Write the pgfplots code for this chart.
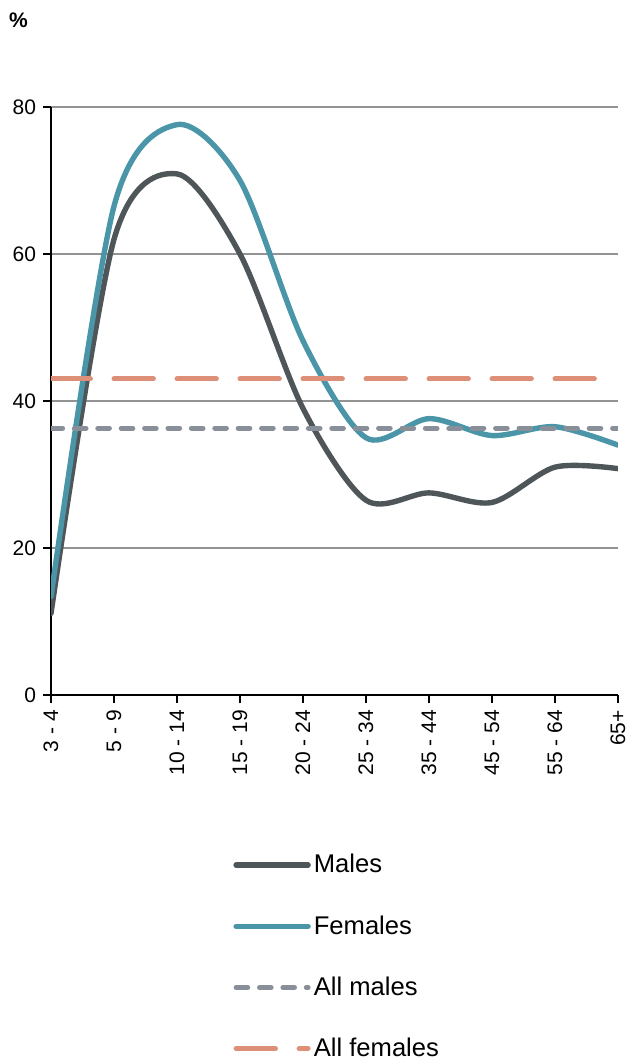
\documentclass[border=0pt]{standalone}
\usepackage{fontspec}
\setmainfont{Liberation Sans}
\usepackage{pgfplots}
\pgfplotsset{compat=1.18}

\definecolor{males}{RGB}{79,86,90}
\definecolor{females}{RGB}{74,150,168}
\definecolor{allmales}{RGB}{137,143,153}
\definecolor{allfemales}{RGB}{222,143,120}

\begin{document}
\begin{tikzpicture}
\begin{axis}[name=ax,
  scale only axis, width=283.5pt, height=294pt,
  xmin=0, xmax=9, ymin=0, ymax=80,
  axis lines*=left,
  axis line style={black, line width=0.8pt},
  ytick={0,20,40,60,80},
  ymajorgrids, grid style={gray!85, line width=0.7pt},
  xtick={0,...,9},
  xticklabels={3 - 4, 5 - 9, 10 - 14, 15 - 19, 20 - 24, 25 - 34, 35 - 44, 45 - 54, 55 - 64, 65+},
  x tick label style={rotate=90, anchor=east},
  tick align=outside, major tick length=4pt,
  tick style={black, line width=0.8pt},
  ticklabel style={font=\fontsize{10.5}{12}\selectfont},
  /pgf/number format/assume math mode=true,
  legend style={at={(axis description cs:0,0)}, anchor=north west,
    xshift=91pt, yshift=-78pt, draw=none, fill=none, inner sep=0pt,
    row sep=16.8pt, font=\fontsize{12.8}{15}\selectfont,
    nodes={inner sep=1.5pt}},
  legend cell align=left,
  legend image code/.code={\draw[#1] (0pt,0pt) -- (36pt,0pt);},
  every axis plot/.append style={line cap=round, line join=round},
]
\addplot[males, line width=2.7pt, smooth] coordinates {
  (0,11.1) (1,62.0) (2,70.9) (3,60.0) (4,39.0) (5,26.5) (6,27.5) (7,26.2) (8,31.0) (9,30.8)};
\addplot[females, line width=2.7pt, smooth] coordinates {
  (0,13.4) (1,66.5) (2,77.6) (3,70.0) (4,48.2) (5,35.0) (6,37.6) (7,35.3) (8,36.5) (9,34.0)};
\addplot[allmales, line width=2.5pt, dash pattern=on 5.8pt off 5.9pt] coordinates {
  (0,36.3) (9,36.3)};
\addplot[allfemales, line width=2.5pt, dash pattern=on 19.7pt off 11.8pt] coordinates {
  (0,43.0) (9,43.0)};
\legend{Males, Females, All males, All females}
\end{axis}
\node[font=\bfseries\fontsize{10.5}{12}\selectfont] at ([xshift=-16.25pt,yshift=43.25pt]ax.north west) {\%};
\pgfresetboundingbox
\path[use as bounding box] ([xshift=-25.5pt,yshift=-183pt]ax.south west) rectangle ([xshift=288pt,yshift=347.5pt]ax.south west);
\end{tikzpicture}
\end{document}
